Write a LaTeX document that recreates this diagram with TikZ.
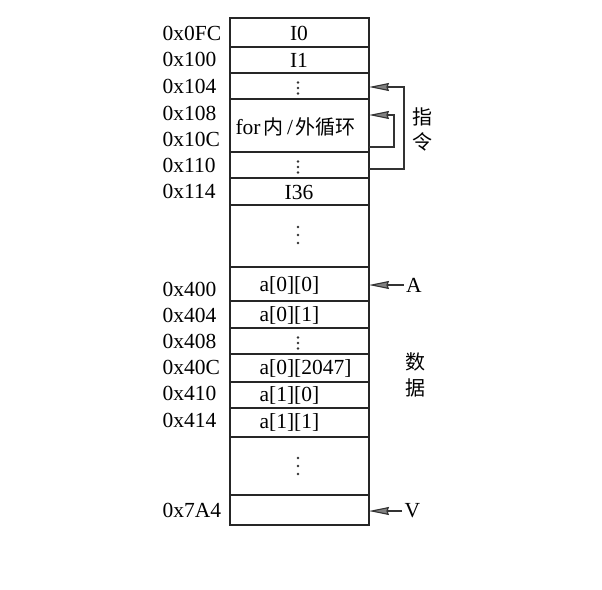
\documentclass[tikz,border=0pt]{standalone}
\usepackage{fontspec}
\setmainfont{Liberation Serif}
\newfontfamily\cjk{Noto Sans CJK SC}
\usetikzlibrary{arrows.meta,calc}
\begin{document}
\begin{tikzpicture}[x=1pt,y=-1pt,
  line width=1.1pt,
  cell/.style={draw=black!85, minimum width=139pt, inner sep=0pt, outer sep=0pt},
  addr/.style={anchor=west, inner sep=0pt, font=\fontsize{21.5}{21.5}\selectfont},
  txt/.style={inner sep=0pt, font=\fontsize{21.5}{21.5}\selectfont},
  side/.style={inner sep=0pt, font=\cjk\fontsize{20}{20}\selectfont},
  dot/.style={fill=black!80, draw=none},
  ptr/.style={draw=black!80, line width=1.1pt,
    -{Stealth[length=20pt,width=8pt,inset=1.5pt,fill=black!50]}}]
\useasboundingbox (0,0) rectangle (602,589);
\fill[white] (0,0) rectangle (602,589);

% vertical ellipsis drawn as three dots around a centre
\newcommand\vdotsat[3]{%
  \fill[dot] (#1,#2-#3) circle (1.3pt);
  \fill[dot] (#1,#2) circle (1.3pt);
  \fill[dot] (#1,#2+#3) circle (1.3pt);}

% memory cells, top to bottom (centre y, height)
\node[cell, minimum height=29pt] (c1)  at (299.5,32.5) {};
\node[cell, minimum height=26pt] (c2)  at (299.5,60)   {};
\node[cell, minimum height=26pt] (c3)  at (299.5,86)   {};
\node[cell, minimum height=53pt] (c4)  at (299.5,125.5){};
\node[cell, minimum height=26pt] (c5)  at (299.5,165)  {};
\node[cell, minimum height=27pt] (c6)  at (299.5,191.5){};
\node[cell, minimum height=62pt] (c7)  at (299.5,236)  {};
\node[cell, minimum height=34pt] (c8)  at (299.5,284)  {};
\node[cell, minimum height=27pt] (c9)  at (299.5,314.5){};
\node[cell, minimum height=26pt] (c10) at (299.5,341)  {};
\node[cell, minimum height=28pt] (c11) at (299.5,368)  {};
\node[cell, minimum height=26pt] (c12) at (299.5,395)  {};
\node[cell, minimum height=29pt] (c13) at (299.5,422.5){};
\node[cell, minimum height=58pt] (c14) at (299.5,466)  {};
\node[cell, minimum height=30pt] (c15) at (299.5,510)  {};

% cell contents
\node[txt] (t1) at (299,33) {I0};
\node[txt] (t2) at (299,60) {I1};
\vdotsat{298}{88}{5.5}
\node[inner sep=0pt, anchor=west] (t4) at (235,127)
  {\fontsize{21.5}{21.5}\selectfont for\hspace{2.5pt}\cjk\fontsize{20}{20}\selectfont 内\hspace{4pt}\rmfamily\fontsize{21.5}{21.5}\selectfont/\hspace{2pt}\cjk\fontsize{20}{20}\selectfont 外循环};
\vdotsat{298}{167}{5.5}
\node[txt] (t6) at (299,192) {I36};
\vdotsat{298}{235}{8}
\node[txt, anchor=west] (t8)  at (259,285) {a[0][0]};
\node[txt, anchor=west] (t9)  at (259,315) {a[0][1]};
\vdotsat{298}{343}{5.5}
\node[txt, anchor=west] (t11) at (259,368) {a[0][2047]};
\node[txt, anchor=west] (t12) at (259,395) {a[1][0]};
\node[txt, anchor=west] (t13) at (259,422) {a[1][1]};
\vdotsat{298}{466}{8}

% addresses
\node[addr] (a1)  at (162,33)  {0x0FC};
\node[addr] (a2)  at (162,59)  {0x100};
\node[addr] (a3)  at (162,86)  {0x104};
\node[addr] (a4)  at (162,113) {0x108};
\node[addr] (a5)  at (162,139) {0x10C};
\node[addr] (a6)  at (162,165) {0x110};
\node[addr] (a7)  at (162,191) {0x114};
\node[addr] (a8)  at (162,289) {0x400};
\node[addr] (a9)  at (162,315) {0x404};
\node[addr] (a10) at (162,341) {0x408};
\node[addr] (a11) at (162,367) {0x40C};
\node[addr] (a12) at (162,393) {0x410};
\node[addr] (a13) at (162,420) {0x414};
\node[addr] (a14) at (162,510) {0x7A4};

% side labels
\node[side] (z1) at (422,117) {指};
\node[side] (z2) at (422,142) {令};
\node[side] (s1) at (415,362) {数};
\node[side] (s2) at (415,388) {据};
\node[txt] (pA) at (414,285) {A};
\node[txt] (pV) at (412.5,511) {V};

% loop arrows
\coordinate (outS) at ($(c5.east)+(0,4)$);
\coordinate (outE) at ($(c3.east)+(0,1)$);
\coordinate (inS)  at ($(c4.east)+(0,21.5)$);
\coordinate (inE)  at ($(c4.east)+(0,-10.5)$);
\draw[ptr] (outS) -- ++(35,0) |- (outE);
\draw[ptr] (inS) -- ++(25,0) |- (inE);

% pointer arrows
\draw[ptr] (pA.west) ++(-2,0) coordinate (pAs) -- (c8.east |- pAs);
\draw[ptr] (pV.west) ++(-2,0) coordinate (pVs) -- (c15.east |- pVs);
\end{tikzpicture}
\end{document}
